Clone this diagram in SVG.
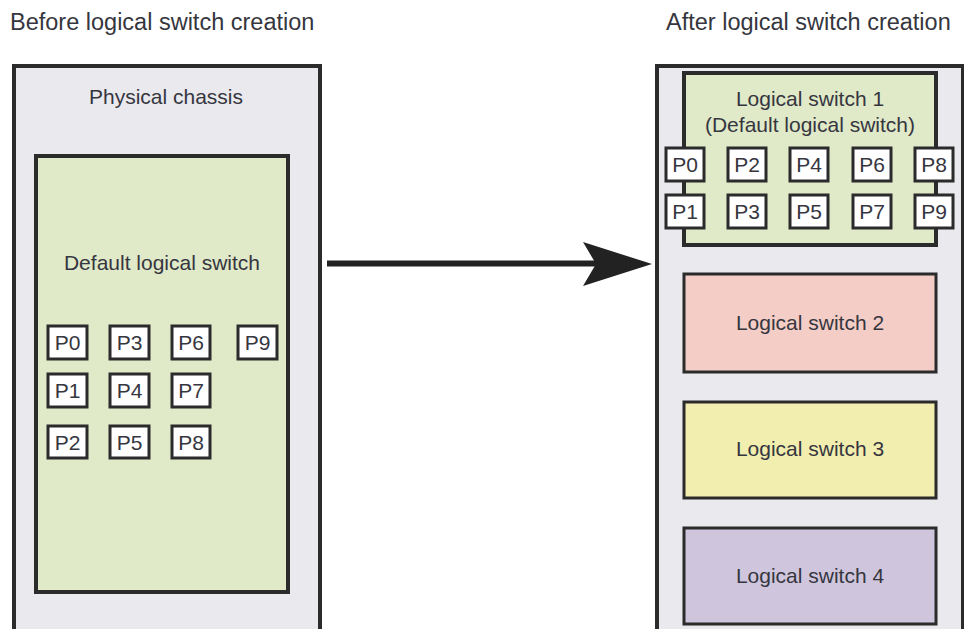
<svg xmlns="http://www.w3.org/2000/svg" width="964" height="629" viewBox="0 0 964 629">
  <style>
    .title { font-family: "Liberation Sans", Arial, sans-serif; font-size: 23.5px; fill: #36363e; }
    .label { font-family: "Liberation Sans", Arial, sans-serif; font-size: 21px; fill: #36363f; text-anchor: middle; }
    .port text { font-family: "Liberation Sans", Arial, sans-serif; font-size: 21px; fill: #36363f; text-anchor: middle; }
    .chassis { fill: #e9e9ee; stroke: #2b2b2b; stroke-width: 4; }
    .box { stroke: #2b2b2b; stroke-width: 4; }
    .ls { stroke: #2b2b2b; stroke-width: 3; }
    .port rect { fill: #ffffff; stroke: #2b2b2b; stroke-width: 3; }
  </style>
  <rect x="0" y="0" width="964" height="629" fill="#ffffff"/>

  <!-- Headings -->
  <text class="title" x="10" y="30">Before logical switch creation</text>
  <text class="title" x="666" y="30">After logical switch creation</text>

  <!-- Left: physical chassis with default logical switch -->
  <g id="chassis-before">
    <path class="chassis" d="M14 640 V66 H320 V640"/>
    <text class="label" x="166" y="104">Physical chassis</text>
  </g>
  <g id="default-ls">
    <rect class="box" x="36" y="156" width="252" height="436" fill="#e0e9c8"/>
    <text class="label" x="162" y="270">Default logical switch</text>
    <g class="port"><rect x="48" y="326" width="39" height="33"/><text x="67.5" y="350">P0</text></g>
    <g class="port"><rect x="110" y="326" width="39" height="33"/><text x="129.5" y="350">P3</text></g>
    <g class="port"><rect x="172" y="326" width="38" height="33"/><text x="191" y="350">P6</text></g>
    <g class="port"><rect x="238" y="326" width="39" height="33"/><text x="257.5" y="350">P9</text></g>
    <g class="port"><rect x="48" y="374" width="39" height="33"/><text x="67.5" y="398">P1</text></g>
    <g class="port"><rect x="110" y="374" width="39" height="33"/><text x="129.5" y="398">P4</text></g>
    <g class="port"><rect x="172" y="374" width="38" height="33"/><text x="191" y="398">P7</text></g>
    <g class="port"><rect x="48" y="426" width="39" height="32"/><text x="67.5" y="450">P2</text></g>
    <g class="port"><rect x="110" y="426" width="39" height="32"/><text x="129.5" y="450">P5</text></g>
    <g class="port"><rect x="172" y="426" width="38" height="32"/><text x="191" y="450">P8</text></g>
  </g>

  <!-- Connector -->
  <g id="connectors">
    <line x1="327" y1="263.5" x2="600" y2="263.5" stroke="#222222" stroke-width="6"/>
    <polygon points="652,264 583,242 596,264 583,286" fill="#222222"/>
  </g>

  <!-- Right: chassis partitioned into logical switches -->
  <g id="chassis-after">
    <path class="chassis" d="M657 640 V66 H963 V640"/>
  </g>
  <g id="ls1">
    <rect class="box" x="684" y="73" width="252" height="172" fill="#e0e9c8"/>
    <text class="label" x="810" y="106">Logical switch 1</text>
    <text class="label" x="810" y="132">(Default logical switch)</text>
    <g class="port"><rect x="666" y="148" width="38" height="33"/><text x="685" y="172">P0</text></g>
    <g class="port"><rect x="728" y="148" width="38" height="33"/><text x="747" y="172">P2</text></g>
    <g class="port"><rect x="790" y="148" width="38" height="33"/><text x="809" y="172">P4</text></g>
    <g class="port"><rect x="853" y="148" width="38" height="33"/><text x="872" y="172">P6</text></g>
    <g class="port"><rect x="915" y="148" width="38" height="33"/><text x="934" y="172">P8</text></g>
    <g class="port"><rect x="666" y="195" width="38" height="33"/><text x="685" y="219">P1</text></g>
    <g class="port"><rect x="728" y="195" width="38" height="33"/><text x="747" y="219">P3</text></g>
    <g class="port"><rect x="790" y="195" width="38" height="33"/><text x="809" y="219">P5</text></g>
    <g class="port"><rect x="853" y="195" width="38" height="33"/><text x="872" y="219">P7</text></g>
    <g class="port"><rect x="915" y="195" width="38" height="33"/><text x="934" y="219">P9</text></g>
  </g>
  <g id="ls2">
    <rect class="ls" x="684" y="274" width="252" height="98" fill="#f4cdc6"/>
    <text class="label" x="810" y="330">Logical switch 2</text>
  </g>
  <g id="ls3">
    <rect class="ls" x="684" y="402" width="252" height="96" fill="#f2eeb0"/>
    <text class="label" x="810" y="456">Logical switch 3</text>
  </g>
  <g id="ls4">
    <rect class="ls" x="684" y="528" width="252" height="96" fill="#cfc6de"/>
    <text class="label" x="810" y="583">Logical switch 4</text>
  </g>
</svg>
